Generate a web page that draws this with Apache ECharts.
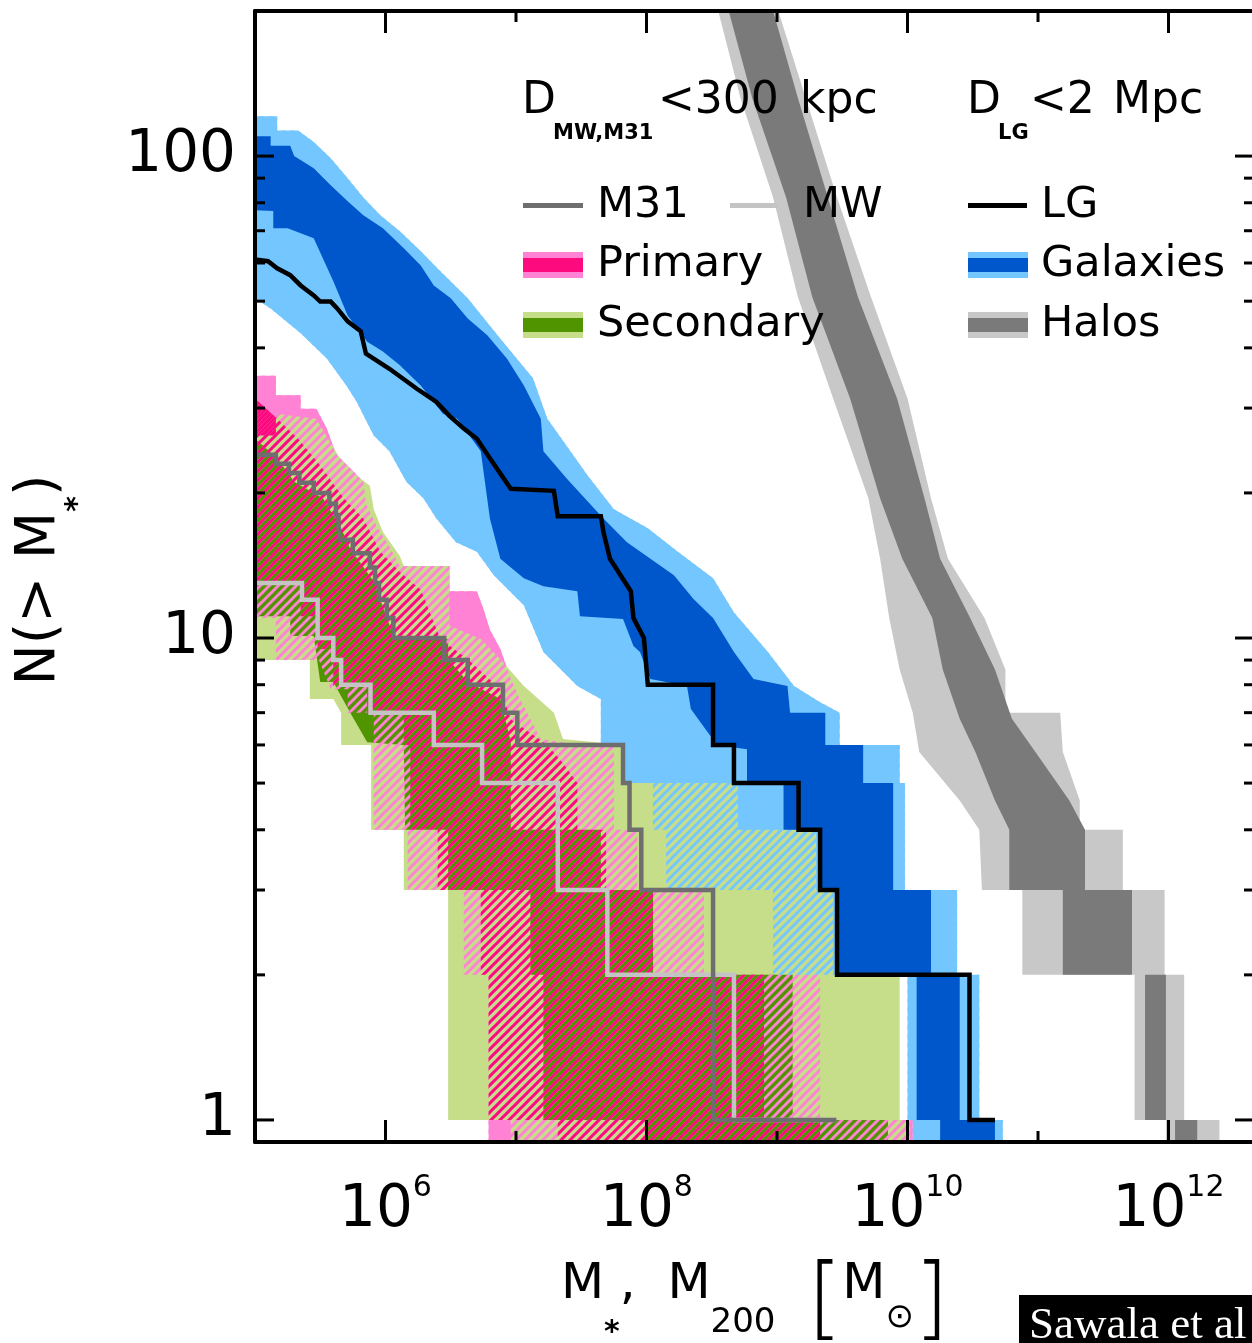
<!DOCTYPE html>
<html><head><meta charset="utf-8">
<script src="https://cdn.jsdelivr.net/npm/echarts@6/dist/echarts.min.js"></script>
<style>html,body{margin:0;padding:0;background:#fff}#c{width:1252px;height:1343px}</style>
</head><body><div id="c"></div><script>
// ---- DATA : [log10(M / Msun), N(>M)] ----
// Halos (D_LG < 2 Mpc): left / right edges of the 68% (dark) and full (light) range
const haloInnerL = [[8.63,200],[8.81,132],[9.07,82],[9.27,51],[9.56,31.4],[9.79,19.5],[9.96,14.6],[10.19,11],[10.27,8.6],[10.40,6.8],[10.52,5.8],[10.67,4.6],[10.78,4],[10.78,3],[11.19,3],[11.19,2],[11.82,2],[11.82,1],[12.05,1],[12.05,0.9]];
const haloInnerR = [[8.97,200],[9.16,132],[9.39,82],[9.62,51],[9.92,31.4],[10.13,19.5],[10.25,14.6],[10.48,11],[10.67,8.6],[10.80,6.8],[10.98,5.8],[11.24,4.6],[11.36,4],[11.36,3],[11.72,3],[11.72,2],[11.98,2],[11.98,1],[12.22,1],[12.22,0.9]];
const haloOuterL = [[8.55,200],[8.72,132],[8.97,82],[9.16,51],[9.43,31.4],[9.70,19.5],[9.79,14.6],[9.86,11],[9.94,8.6],[10.04,7],[10.09,5.8],[10.40,4.6],[10.55,4],[10.57,3],[10.88,3],[10.88,2],[11.74,2],[11.74,1],[11.98,1],[11.98,0.9]];
const haloOuterR = [[9.01,200],[9.22,132],[9.46,82],[9.72,51],[10.0,31.4],[10.18,19.5],[10.31,14.6],[10.59,11],[10.75,8.6],[10.75,7],[11.17,7],[11.19,5.8],[11.32,4.6],[11.32,4],[11.65,4],[11.65,3],[11.97,3],[11.97,2],[12.12,2],[12.12,1],[12.39,1],[12.39,0.9]];
// Galaxies (D_LG < 2 Mpc): upper and lower edges
const galOuterU = [[5.0,121],[5.17,121],[5.17,113],[5.33,113],[5.45,107],[5.58,99],[5.71,90],[5.83,82],[5.96,75.4],[6.11,69.8],[6.27,63.5],[6.42,57.7],[6.63,50.7],[6.88,41.8],[7.13,34.6],[7.24,28.5],[7.55,21.7],[7.75,18.5],[8.01,16.9],[8.24,15.1],[8.51,13.3],[8.67,11.3],[8.93,9.35],[9.13,7.95],[9.33,7.36],[9.48,7],[9.48,6],[9.94,6],[9.94,5],[9.98,5],[9.98,3],[10.38,3],[10.38,2],[10.55,2],[10.55,1],[10.73,1],[10.73,0.9]];
const galOuterL = [[5.0,50.7],[5.12,48.3],[5.35,42.9],[5.55,38.0],[5.70,33.4],[5.78,30.9],[5.91,26.3],[6.03,24.4],[6.16,21.1],[6.29,19.5],[6.39,17.7],[6.54,15.8],[6.70,15.1],[6.83,13.5],[7.06,11.7],[7.21,9.35],[7.47,7.95],[7.65,7.47],[7.65,6],[7.82,6],[7.82,5],[8.05,5],[8.05,4],[8.15,4],[8.15,3],[8.97,3],[8.97,2],[10.0,2],[10.0,1],[10.04,1],[10.04,0.9]];
const galInnerU = [[5.0,110],[5.12,110],[5.12,105],[5.27,105],[5.30,100],[5.45,94.4],[5.58,87],[5.71,80.6],[5.83,75.4],[5.98,70.8],[6.14,64.4],[6.27,59.3],[6.37,53.9],[6.50,50.7],[6.63,46],[6.78,42.5],[6.93,38],[7.06,33.4],[7.19,28.5],[7.21,24.4],[7.39,21.4],[7.55,19.2],[7.67,17.7],[7.85,15.8],[8.03,14.6],[8.21,13.5],[8.36,12.05],[8.51,11],[8.67,9.35],[8.82,8.22],[9.08,7.95],[9.10,7],[9.37,7],[9.37,6],[9.66,6],[9.66,5],[9.89,5],[9.89,3],[10.18,3],[10.18,2],[10.40,2],[10.40,1],[10.67,1],[10.67,0.9]];
const galInnerL = [[5.0,77.2],[5.14,76.9],[5.14,70.8],[5.25,70.8],[5.45,67.5],[5.60,55],[5.71,46.7],[5.86,41.2],[5.98,39.3],[6.11,36.8],[6.27,33.4],[6.44,29.2],[6.55,28.5],[6.73,24.4],[6.80,17.7],[6.88,14.6],[7.06,13.3],[7.21,12.8],[7.47,12.5],[7.49,11.1],[7.82,10.95],[7.90,9.63],[7.95,9.35],[8.03,8.22],[8.31,7.95],[8.34,7.12],[8.54,6],[8.77,5.88],[8.77,5],[9.05,5],[9.05,4],[9.33,4],[9.33,3],[9.46,3],[9.46,2],[10.07,2],[10.07,1],[10.25,1],[10.25,0.9]];
// Primary satellites (D < 300 kpc)
const priOuterU = [[5.0,35],[5.16,35],[5.16,31.9],[5.35,31.9],[5.35,29.9],[5.47,29.9],[5.55,27.2],[5.62,24.1],[5.73,22.5],[5.83,21.1],[5.85,19],[5.93,17.1],[6.04,15.3],[6.11,14.1],[6.49,14.1],[6.49,12.5],[6.70,12.5],[6.75,11.5],[6.80,10.4],[6.88,9.49],[6.96,8.22],[7.03,7.47],[7.19,6.17],[7.49,6],[7.75,6],[7.75,4],[7.93,4],[7.93,3],[8.44,3],[8.44,2],[9.33,2],[9.33,1],[10.04,1],[10.04,0.9]];
const priOuterL = [[5.0,11],[5.16,11],[5.16,9],[5.49,9],[5.58,7.83],[5.71,7.83],[5.71,7],[5.91,7],[5.91,4],[6.17,4],[6.17,3],[6.60,3],[6.60,2],[6.79,2],[6.79,0.9]];
const priInnerU = [[5.0,31.4],[5.17,28.5],[5.33,25.9],[5.50,22.8],[5.68,19.5],[5.83,17.7],[5.96,15.1],[6.11,13.7],[6.27,12.6],[6.42,9.95],[6.63,9.04],[6.88,7.83],[6.96,6.78],[7.24,6],[7.36,5.5],[7.47,5],[7.47,4],[7.69,4],[7.69,3],[8.05,3],[8.05,2],[8.90,2],[8.90,1],[9.33,1],[9.33,0.9]];
const priInnerL = [[5.0,13],[5.35,13],[5.35,11.1],[5.48,11.1],[5.48,9.49],[5.60,9.49],[5.60,7.95],[5.86,7.95],[5.86,7],[6.14,7],[6.14,6],[6.19,6],[6.19,4],[6.40,4],[6.40,3],[6.73,3],[6.73,2],[6.79,2],[6.79,1],[7.32,1],[7.32,0.9]];
// Secondary satellites (D < 300 kpc)
const secOuterU = [[5.0,26.3],[5.16,26.3],[5.16,29.2],[5.47,28.5],[5.55,26.2],[5.65,23.6],[5.78,21.7],[5.88,20.7],[5.91,18.5],[5.98,16.6],[6.11,14.8],[6.14,14.1],[6.49,14.1],[6.49,10.6],[6.73,9.95],[6.88,9.04],[7.06,7.95],[7.29,7],[7.36,6.17],[7.82,6],[7.82,5],[8.70,5],[8.70,4],[9.30,4],[9.30,3],[9.43,3],[9.43,2],[9.94,2],[9.94,1],[10.02,1],[10.02,0.9]];
const secOuterL = [[5.0,9],[5.42,9],[5.42,7.47],[5.60,7.47],[5.66,7],[5.66,6],[5.89,6],[5.89,4],[6.14,4],[6.14,3],[6.48,3],[6.48,1],[6.96,1],[6.96,0.9]];
const secInnerU = [[5.0,25.9],[5.17,23.6],[5.30,21.1],[5.52,19.5],[5.66,16.9],[5.73,15.3],[5.91,13.1],[6.06,10.1],[6.48,9.95],[6.48,9.04],[6.63,8.1],[6.88,7.47],[6.96,6.08],[6.96,4],[7.65,4],[7.65,3],[8.05,3],[8.05,2],[9.12,2],[9.12,1],[9.85,1],[9.85,0.9]];
const secInnerL = [[5.0,11.1],[5.27,11.1],[5.27,10.1],[5.45,10.1],[5.50,8.1],[5.60,8.1],[5.73,7],[5.86,6.08],[6.14,6],[6.15,4],[6.48,4],[6.48,3],[7.11,3],[7.11,2],[7.21,2],[7.21,1],[8.01,1],[8.01,0.9]];
// Observed cumulative counts
const lineLG = [[5.0,61],[5.10,60.5],[5.17,58.5],[5.27,56.6],[5.35,53.9],[5.45,51.4],[5.50,49.9],[5.58,49.9],[5.63,48.3],[5.71,45.4],[5.81,43.3],[5.85,38.9],[6.03,36.2],[6.24,32.9],[6.39,30.9],[6.49,28.9],[6.60,27.2],[6.70,25.9],[6.80,23.6],[6.96,20.4],[7.29,20.2],[7.32,17.9],[7.65,17.9],[7.67,16.6],[7.72,14.6],[7.88,12.5],[7.90,11],[7.98,10],[8.01,8],[8.51,8],[8.51,6],[8.67,6],[8.67,5],[9.165,5],[9.165,4],[9.33,4],[9.33,3],[9.46,3],[9.46,2],[10.475,2],[10.475,1],[10.67,1]];
const lineM31 = [[5.0,24],[5.16,23],[5.26,22],[5.34,21],[5.45,20],[5.57,19],[5.62,18],[5.64,17],[5.65,16],[5.75,15],[5.88,14],[5.92,13],[5.95,12],[6.01,11],[6.06,10],[6.45,9],[6.63,8],[6.90,7],[7.01,6],[7.82,5],[7.87,4],[7.96,3],[8.51,1],[9.455,1]];
const lineMW = [[5.0,13],[5.36,12],[5.48,10],[5.60,9],[5.66,8],[5.885,7],[6.37,6],[6.74,5],[7.32,3],[7.70,2],[8.67,1],[9.455,1]];
// Ticks
const xTickMajor = [1e6, 1e8, 1e10, 1e12];
const xTickMinor = [1e7, 1e9, 1e11];
const yTickMajor = [1, 10, 100];
const yTickMinor = [2,3,4,5,6,7,8,9,20,30,40,50,60,70,80,90];

// ---- colours ----
const C = {
  haloL:'#c8c8c8', haloD:'#7a7a7a', galL:'#74c6ff', galD:'#0057cc',
  priL:'#ff82d4', priD:'#fc0a7e', secL:'#c6dd8a', secD:'#509400',
  m31:'#6e6e6e', mw:'#c4c4c4', lg:'#000'
};
const X_MIN = 1e5, X_MAX = Math.pow(10, 12.655), Y_MIN = 0.9, Y_MAX = 200;

function stripe(color) {
  const s = 9, c = document.createElement('canvas');
  c.width = s; c.height = s;
  const g = c.getContext('2d');
  g.strokeStyle = color; g.lineWidth = 3.0;
  g.beginPath();
  g.moveTo(-s/2, s*1.5); g.lineTo(s*1.5, -s/2);
  g.moveTo(-s/2, s/2); g.lineTo(s/2, -s/2);
  g.moveTo(s/2, s*1.5); g.lineTo(s*1.5, s/2);
  g.stroke();
  return {image: c, repeat: 'repeat'};
}
function toVal(arr) { return arr.map(p => [Math.pow(10, p[0]), p[1]]); }
function band(name, a, b, fill) {
  const pts = toVal(a.concat(b.slice().reverse()));
  return {
    type: 'custom', name: name, silent: true, animation: false, clip: true, z: 2,
    data: [pts[0]],
    renderItem: function (params, api) {
      return {type: 'polygon', shape: {points: pts.map(p => api.coord(p))}, style: {fill: fill}};
    }
  };
}
function ticks(vals, axis, len) {
  return {
    type: 'custom', silent: true, animation: false, z: 6, clip: false,
    data: vals.map(v => axis === 'x' ? [v, 1] : [X_MIN, v]),
    renderItem: function (params, api) {
      const cs = params.coordSys;
      const p = api.coord([api.value(0), api.value(1)]);
      const st = {stroke: '#000', lineWidth: 3};
      if (axis === 'x') {
        const yb = cs.y + cs.height, yt = cs.y;
        return {type: 'group', children: [
          {type: 'line', shape: {x1: p[0], y1: yb, x2: p[0], y2: yb - len}, style: st},
          {type: 'line', shape: {x1: p[0], y1: yt, x2: p[0], y2: yt + len}, style: st}]};
      }
      const xl = cs.x, xr = cs.x + cs.width;
      return {type: 'group', children: [
        {type: 'line', shape: {x1: xl, y1: p[1], x2: xl + len, y2: p[1]}, style: st},
        {type: 'line', shape: {x1: xr, y1: p[1], x2: xr - len, y2: p[1]}, style: st}]};
    }
  };
}
function stepLine(name, arr, color, width, step) {
  return {type: 'line', name: name, data: toVal(arr), step: step, symbol: 'none', silent: true,
    animation: false, z: 4, lineStyle: {color: color, width: width, join: 'miter', cap: 'butt'}};
}
const F = '"DejaVu Sans", sans-serif';
function isPow10(v) { const e = Math.log10(v); return Math.abs(e - Math.round(e)) < 1e-6; }

const axisCommon = {
  type: 'log', z: 5, axisTick: {show: false}, splitLine: {show: false}, minorTick: {show: false},
  axisLine: {show: true, onZero: false, lineStyle: {color: '#000', width: 4}}
};
const legendTxt = (t, x, y, extra) => Object.assign({type: 'text', x: x, y: y, z: 20,
  style: {text: t, font: '43px ' + F, fill: '#000', align: 'left', verticalAlign: 'middle'}}, extra || {});
const rect = (x, y, w, h, c) => ({type: 'rect', z: 20, shape: {x: x, y: y, width: w, height: h}, style: {fill: c}});

const option = {
  animation: false,
  backgroundColor: '#fff',
  grid: {left: 255, top: 11, width: 999, height: 1131, outerBoundsMode: 'none', containLabel: false},
  xAxis: [
    Object.assign({}, axisCommon, {min: X_MIN, max: X_MAX, position: 'bottom', splitNumber: 8,
      axisLabel: {margin: 31, formatter: function (v) {
        if (!isPow10(v)) return ''; const e = Math.round(Math.log10(v));
        return e % 2 === 0 ? '{b|10}{s|' + e + '}' : ''; },
        rich: {b: {fontSize: 58, fontFamily: F, color: '#000', lineHeight: 58, padding: [9, 0, 0, 0], verticalAlign: 'top'},
               s: {fontSize: 30, fontFamily: F, color: '#000', lineHeight: 30, verticalAlign: 'top'}}}}),
    Object.assign({}, axisCommon, {min: X_MIN, max: X_MAX, position: 'top', axisLabel: {show: false}})
  ],
  yAxis: [
    Object.assign({}, axisCommon, {min: Y_MIN, max: Y_MAX, position: 'left',
      axisLabel: {margin: 19, fontSize: 58, fontFamily: F, color: '#000',
        formatter: function (v) { return isPow10(v) ? String(Math.round(v)) : ''; }}}),
    Object.assign({}, axisCommon, {min: Y_MIN, max: Y_MAX, position: 'right', axisLabel: {show: false},
      axisLine: {show: false}})
  ],
  series: [
    band('Halos range', haloOuterL, haloOuterR, C.haloL),
    band('Halos 68%', haloInnerL, haloInnerR, C.haloD),
    band('Galaxies range', galOuterU, galOuterL, C.galL),
    band('Primary range', priOuterU, priOuterL, C.priL),
    band('Primary 68%', priInnerU, priInnerL, C.priD),
    band('Secondary range', secOuterU, secOuterL, C.secL),
    band('Secondary 68%', secInnerU, secInnerL, C.secD),
    band('Primary range overlap', priOuterU, priOuterL, stripe(C.priL)),
    band('Primary 68% overlap', priInnerU, priInnerL, stripe(C.priD)),
    band('Galaxies range overlap', galOuterU, galOuterL, stripe(C.galL)),
    band('Galaxies 68%', galInnerU, galInnerL, C.galD),
    stepLine('MW', lineMW, C.mw, 4.5, 'end'),
    stepLine('M31', lineM31, C.m31, 4.5, 'end'),
    stepLine('LG', lineLG, C.lg, 4.5, false),
    ticks(xTickMajor, 'x', 22), ticks(xTickMinor, 'x', 11),
    ticks(yTickMajor, 'y', 19), ticks(yTickMinor, 'y', 10)
  ],
  graphic: {elements: [
    // headings
    legendTxt('D', 522, 102, {style: {text: 'D', font: '44px ' + F, fill: '#000', verticalAlign: 'middle'}}),
    legendTxt('MW,M31', 553, 134, {style: {text: 'MW,M31', font: 'bold 21px ' + F, fill: '#000', verticalAlign: 'middle'}}),
    legendTxt('<300', 658, 102, {style: {text: '<300', font: '44px ' + F, fill: '#000', verticalAlign: 'middle'}}),
    legendTxt('kpc', 800, 102, {style: {text: 'kpc', font: '44px ' + F, fill: '#000', verticalAlign: 'middle'}}),
    legendTxt('D', 967, 102, {style: {text: 'D', font: '44px ' + F, fill: '#000', verticalAlign: 'middle'}}),
    legendTxt('LG', 998, 134, {style: {text: 'LG', font: 'bold 21px ' + F, fill: '#000', verticalAlign: 'middle'}}),
    legendTxt('<2', 1030, 102, {style: {text: '<2', font: '44px ' + F, fill: '#000', verticalAlign: 'middle'}}),
    legendTxt('Mpc', 1113, 102, {style: {text: 'Mpc', font: '44px ' + F, fill: '#000', verticalAlign: 'middle'}}),
    // row 1 : lines
    rect(523, 203, 60, 5, C.m31), legendTxt('M31', 597, 206),
    rect(730, 203, 48, 5, C.mw), legendTxt('MW', 803, 206),
    rect(968, 203, 59, 5, C.lg), legendTxt('LG', 1041, 206),
    // row 2
    rect(523, 252, 60, 26, C.priL), rect(523, 258, 60, 14, C.priD), legendTxt('Primary', 597, 265),
    rect(968, 252, 60, 26, C.galL), rect(968, 258, 60, 14, C.galD), legendTxt('Galaxies', 1041, 265),
    // row 3
    rect(523, 312, 60, 26, C.secL), rect(523, 318, 60, 14, C.secD), legendTxt('Secondary', 597, 325),
    rect(968, 312, 60, 26, C.haloL), rect(968, 318, 60, 14, C.haloD), legendTxt('Halos', 1041, 325),
    // axis titles
    {type: 'text', x: 755, y: 1260, z: 20, style: {
      text: '{m|M}{st|*}{m|,  M}{s|200}{m|  }{br|[}{m|M}{sun|\u2299}{br|]}', align: 'center', verticalAlign: 'top',
      rich: {
        m: {fontSize: 50, fontFamily: F, lineHeight: 56, verticalAlign: 'top', fill: '#000'},
        st: {fontSize: 30, fontWeight: 'bold', fontFamily: F, lineHeight: 30, padding: [58, 0, 0, 0], verticalAlign: 'top', fill: '#000'},
        s: {fontSize: 34, fontFamily: F, lineHeight: 34, padding: [46, 0, 0, 0], verticalAlign: 'top', fill: '#000'},
        sun: {fontSize: 34, fontFamily: F, lineHeight: 34, padding: [41, 0, 0, 0], verticalAlign: 'top', fill: '#000'},
        br: {fontSize: 90, fontWeight: 200, fontFamily: F, lineHeight: 62, verticalAlign: 'top', fill: '#000'}
      }}},
    {type: 'text', x: 12, y: 580, rotation: Math.PI / 2, z: 20, style: {
      text: '{a|N(> M}{s|*}{a|)}', align: 'center', verticalAlign: 'top',
      rich: {
        a: {fontSize: 55, fontFamily: F, lineHeight: 62, verticalAlign: 'top', fill: '#000'},
        s: {fontSize: 30, fontWeight: 'bold', fontFamily: F, lineHeight: 30, padding: [51, 0, 0, 0], verticalAlign: 'top', fill: '#000'}
      }}},
    // citation box
    rect(1019, 1295, 240, 60, '#000'),
    {type: 'text', x: 1029, y: 1326, z: 21, style: {text: 'Sawala et al 2016', font: '45px "Liberation Serif", serif', fill: '#fff', verticalAlign: 'middle'}}
  ]}
};
const chart = echarts.init(document.getElementById('c'), null, {renderer: 'canvas'});
chart.setOption(option);
</script></body></html>
